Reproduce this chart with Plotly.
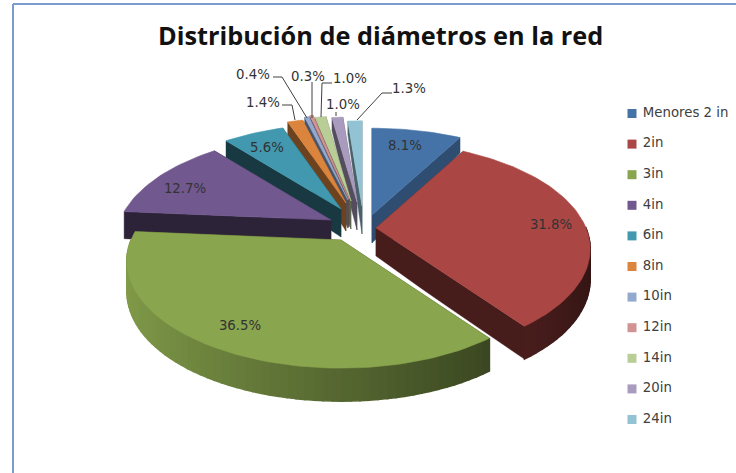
import math
import plotly.graph_objects as go

TITLE = "Distribución de diámetros en la red"
categories = ["Menores 2 in", "2in", "3in", "4in", "6in", "8in", "10in", "12in", "14in", "20in", "24in"]
values = [8.1, 31.8, 36.5, 12.7, 5.6, 1.4, 0.4, 0.3, 1.0, 1.0, 1.3]

colors = ["#4572a7", "#aa4643", "#89a54e", "#71588f", "#4198af", "#db843d",
          "#93a9cf", "#d19392", "#b9cd96", "#a99bbd", "#92c3d4"]

# ---- presentation settings (pixels of the 736x473 page) ----
W, H = 736, 473
APEX = [(372, 215), (376, 228), (341, 240), (331, 220), (341, 209), (346, 203),
        (348, 200), (349, 199), (351, 201), (357, 202), (362, 206)]
RADIUS = [212, 210, 210, 211, 208, 208, 208, 208, 208, 208, 208]
WALL_SHADE = [0.68, 0.42, 0.4, 0.4, 0.38, 0.5, 0.5, 0.5, 0.5, 0.5, 0.5]
K, P = 0.49, 0.197
DRAW_ORDER = [10, 9, 8, 7, 6, 5, 4, 0, 3, 1, 2]
LABEL_POS = [(405, 147), (551, 226), (240, 327), (185, 190), (267, 149), (263, 104),
             (253, 76), (308, 78), (350, 80), (343, 106), (409, 90)]
LEADERS = {
    5: [(282, 105), (292, 105), (295, 120)],
    6: [(273, 77), (282, 77), (307, 118)],
    7: [(312, 82), (312, 118)],
    8: [(332, 83), (322, 83), (321, 117)],
    9: [(336, 112), (336, 116)],
    10: [(392, 93), (382, 93), (357, 120)],
}
LEGEND_X, LEGEND_Y0, LEGEND_STEP = 632, 113.5, 30.6


def rgb(hexcol, f):
    r, g, b = (int(hexcol[i:i + 2], 16) for i in (1, 3, 5))
    return f"rgb({int(r * f)},{int(g * f)},{int(b * f)})"


def project(i, r, t):
    ax, ay = APEX[i]
    R = RADIUS[i]
    X, Z = r * math.sin(t), r * math.cos(t)
    s = 1 / (1 + P * Z)
    return ax + R * s * X, ay - R * K * s * Z


def depth(r, t):
    Z = r * math.cos(t)
    return 28 - 10 * Z - 5 * Z * Z


def face(points, color, lw=0.4):
    xs, ys = zip(*points)
    return go.Scatter(x=list(xs) + [xs[0]], y=list(ys) + [ys[0]], mode="lines", fill="toself",
                      fillcolor=color, line=dict(width=lw, color=color),
                      hoverinfo="skip", showlegend=False)


total = sum(values)
spans, acc = [], 0.0
for v in values:
    spans.append((acc / total * 2 * math.pi, (acc + v) / total * 2 * math.pi))
    acc += v

fig = go.Figure()
for i in DRAW_ORDER:
    a, b = spans[i]
    wall = rgb(colors[i], WALL_SHADE[i])
    # radial walls
    for t in (a, b):
        top = [project(i, j / 6, t) for j in range(7)]
        bot = [(x, y + depth(j / 6, t)) for j, (x, y) in enumerate(top)]
        fig.add_trace(face(top + bot[::-1], wall))
    # curved rim, shaded from light (left) to dark (right)
    n = max(2, int((b - a) / math.radians(2)))
    for j in range(n):
        t0, t1 = a + (b - a) * j / n, a + (b - a) * (j + 1) / n
        if math.cos((t0 + t1) / 2) > 0.0:
            continue
        p0, p1 = project(i, 1, t0), project(i, 1, t1)
        f = 0.3 + 0.65 * (1 - math.sin((t0 + t1) / 2)) / 2
        fig.add_trace(face([p0, p1, (p1[0], p1[1] + depth(1, t1)), (p0[0], p0[1] + depth(1, t0))],
                           rgb(colors[i], f), lw=1.5))
    # top surface
    m = max(3, int((b - a) / math.radians(1.5)))
    arc = [project(i, 1, a + (b - a) * j / m) for j in range(m + 1)]
    fig.add_trace(face([APEX[i]] + arc, colors[i], lw=0.6))

# leader lines
for pts in LEADERS.values():
    xs, ys = zip(*pts)
    fig.add_trace(go.Scatter(x=xs, y=ys, mode="lines", line=dict(color="#404040", width=1),
                             hoverinfo="skip", showlegend=False))

# data labels
fig.add_trace(go.Scatter(
    x=[p[0] for p in LABEL_POS], y=[p[1] for p in LABEL_POS], mode="text",
    text=[f"{v:.1f}%" for v in values], textposition="middle center",
    textfont=dict(family="DejaVu Sans", size=13.3, color="#333333"),
    hoverinfo="skip", showlegend=False))

# legend
fig.add_trace(go.Scatter(
    x=[LEGEND_X] * len(categories),
    y=[LEGEND_Y0 + LEGEND_STEP * i for i in range(len(categories))],
    mode="markers+text", text=[" " + c for c in categories], textposition="middle right",
    marker=dict(symbol="square", size=9, color=colors),
    textfont=dict(family="DejaVu Sans", size=13.3, color="#404040"),
    hoverinfo="skip", showlegend=False))

fig.add_annotation(x=380, y=35, text=f"<b>{TITLE}</b>", showarrow=False, xref="x", yref="y",
                   font=dict(family="Open Sans", size=25.3, color="#111111"))

frame = "#7a9bcf"
fig.add_shape(type="line", x0=13, y0=4, x1=13, y1=H, line=dict(color=frame, width=2))
fig.add_shape(type="line", x0=13, y0=4, x1=W, y1=4, line=dict(color=frame, width=2))

fig.update_xaxes(range=[0, W], visible=False, fixedrange=True)
fig.update_yaxes(range=[H, 0], visible=False, fixedrange=True)
fig.update_layout(width=W, height=H, margin=dict(l=0, r=0, t=0, b=0),
                  paper_bgcolor="white", plot_bgcolor="white", showlegend=False)
fig.write_html("out.html", config={"displayModeBar": False},
               post_script="document.body.style.margin='0';document.body.style.overflow='hidden';")
